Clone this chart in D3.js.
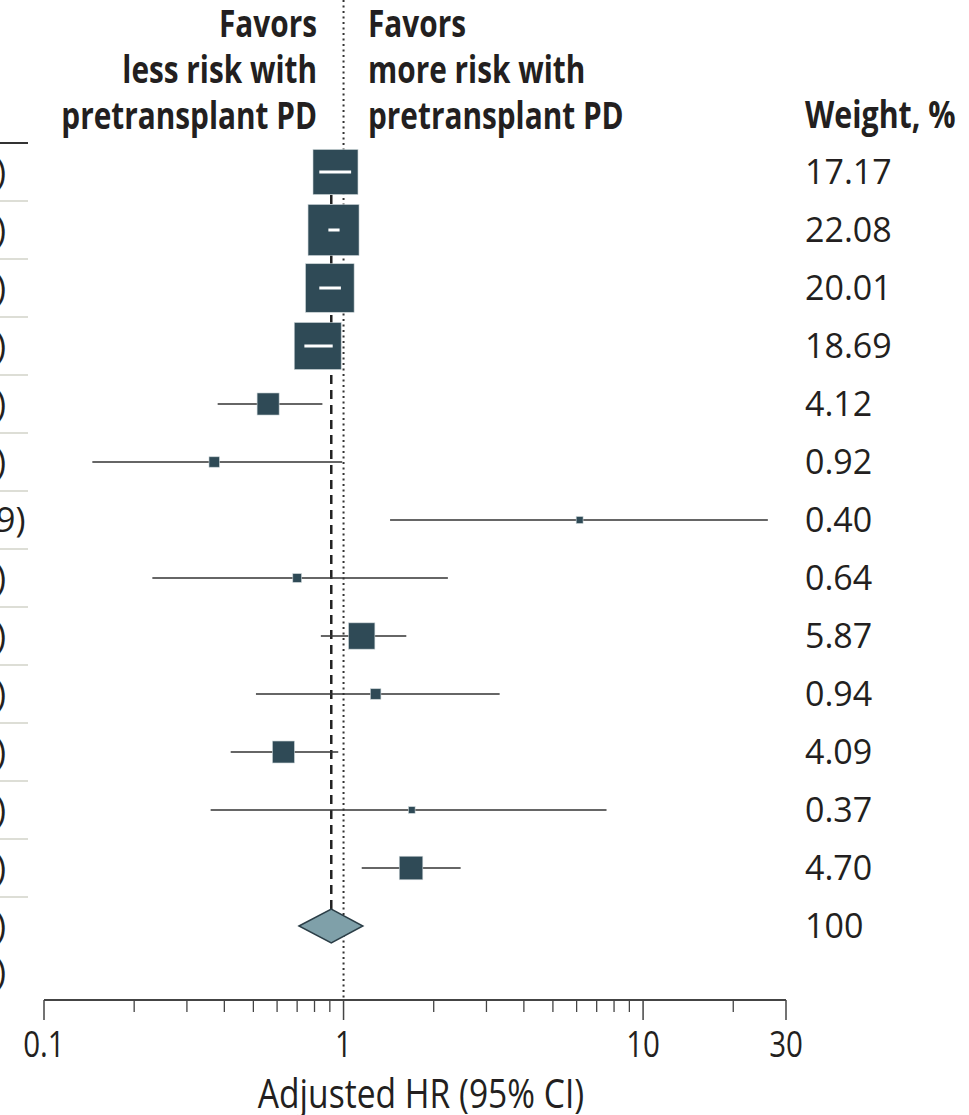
<!DOCTYPE html>
<meta charset="utf-8">
<style>
body { margin: 0; background: #fff; }
svg { display: block; }
.cond { font-family: "Open Sans", sans-serif; fill: #231f20; }
.num { font-family: "Open Sans", sans-serif; font-size: 34px; fill: #231f20; }
</style>
<body>
<script src="https://cdn.jsdelivr.net/npm/d3@7"></script>
<script>

// study rows (labels on the left are cropped off in the picture)
var hr      = [0.94, 0.926, 0.90, 0.82, 0.56, 0.37, 6.14, 0.70, 1.15, 1.28, 0.63, 1.69, 1.68];
var lower   = [0.83, 0.89, 0.83, 0.74, 0.38, 0.145, 1.43, 0.23, 0.84, 0.51, 0.42, 0.36, 1.15];
var upper   = [1.06, 0.97, 0.98, 0.92, 0.85, 0.99, 26.09, 2.23, 1.62, 3.32, 0.96, 7.55, 2.46];
var weights = [17.17, 22.08, 20.01, 18.69, 4.12, 0.92, 0.40, 0.64, 5.87, 0.94, 4.09, 0.37, 4.70];

// pooled estimate
var overallHr = 0.91, overallLower = 0.71, overallUpper = 1.16, overallWeight = 100;
var footLabel = "(0.52-1.59)";

// axis
var tickValues = [0.1, 1, 10, 30];
var minorTicks = [0.2, 0.3, 0.4, 0.5, 0.6, 0.7, 0.8, 0.9, 2, 3, 4, 5, 6, 7, 8, 9, 20];
var axisTitle = "Adjusted HR (95% CI)";
var leftHeader = ["Favors", "less risk with", "pretransplant PD"];
var rightHeader = ["Favors", "more risk with", "pretransplant PD"];
var weightHeader = "Weight, %";

var width = 969, height = 1115;
var squash = 0.82;      // condensed look for the header / axis font
var boxColour = "#2f4a56", diamondColour = "#7fa0a9";

var svg = d3.select("body").append("svg")
    .attr("width", width)
    .attr("height", height);

var x = d3.scaleLog().domain([0.1, 30]).range([44, 786]);
var y = d3.scalePoint().domain(d3.range(hr.length + 1)).range([172, 926]);
var size = d3.scaleSqrt().domain([0, 22.08]).range([0, 51]);

var fmt = d3.format(".2f");
function hrText(h, l, u) { return fmt(h) + " (" + fmt(l) + "-" + fmt(u) + ")"; }

// condensed text helper
function condText(g, tx, ty, str, opts) {
  var t = g.append("g")
      .attr("transform", "translate(" + tx + "," + ty + ") scale(" + (opts.squash || squash) + ",1)")
    .append("text")
      .attr("class", "cond")
      .attr("text-anchor", opts.anchor || "start")
      .style("font-size", opts.size + "px")
      .style("font-weight", opts.bold ? "bold" : "normal")
      .text(str);
  return t;
}

// header
leftHeader.forEach(function(s, i) {
  condText(svg, 317, 37 + i * 46, s, {anchor: "end", size: 37, bold: true, squash: 0.805});
});
rightHeader.forEach(function(s, i) {
  condText(svg, 368, 37 + i * 46, s, {anchor: "start", size: 37, bold: true, squash: 0.805});
});
condText(svg, 805, 128, weightHeader, {anchor: "start", size: 37, bold: true});

// rule under header and row separators at the left edge
svg.append("line")
    .attr("x1", 0).attr("x2", 28)
    .attr("y1", 143).attr("y2", 143)
    .attr("stroke", "#333").attr("stroke-width", 2);

svg.selectAll(".sep")
    .data(d3.range(hr.length))
  .enter().append("line")
    .attr("class", "sep")
    .attr("x1", 0).attr("x2", 28)
    .attr("y1", function(i) { return y(i) + 29; })
    .attr("y2", function(i) { return y(i) + 29; })
    .attr("stroke", "#d2d3c8").attr("stroke-width", 1.5);

// HR column, left aligned, mostly cropped off
var labels = hr.map(function(h, i) { return hrText(h, lower[i], upper[i]); });
labels.push(hrText(overallHr, overallLower, overallUpper));

var hrCol = svg.append("g");
var probe = hrCol.append("text").attr("class", "num").text(labels[0]);
var colStart = 6 - probe.node().getComputedTextLength();
probe.remove();

hrCol.selectAll("text")
    .data(labels)
  .enter().append("text")
    .attr("class", "num")
    .attr("x", colStart)
    .attr("y", function(d, i) { return y(i) + 12; })
    .text(function(d) { return d; });

hrCol.append("text")
    .attr("class", "num")
    .attr("text-anchor", "end")
    .attr("x", 6)
    .attr("y", y(hr.length) + 46 + 12)
    .text(footLabel);

// reference line at 1 (dotted)
svg.append("line")
    .attr("x1", x(1)).attr("x2", x(1))
    .attr("y1", 0).attr("y2", 1000)
    .attr("stroke", "#333").attr("stroke-width", 2)
    .attr("stroke-dasharray", "2,3.5");

// pooled estimate line (dashed)
svg.append("line")
    .attr("x1", x(overallHr)).attr("x2", x(overallHr))
    .attr("y1", 150).attr("y2", y(hr.length))
    .attr("stroke", "#222").attr("stroke-width", 2.5)
    .attr("stroke-dasharray", "9,6");

// study markers
var rows = svg.selectAll(".row")
    .data(hr.map(function(h, i) { return {hr: h, lo: lower[i], hi: upper[i], w: weights[i], i: i}; }))
  .enter().append("g")
    .attr("class", "row")
    .attr("transform", function(d) { return "translate(0," + y(d.i) + ")"; });

rows.append("line")
    .attr("x1", function(d) { return x(d.lo); })
    .attr("x2", function(d) { return x(d.hi); })
    .attr("stroke", "#333").attr("stroke-width", 1.6);

rows.append("rect")
    .attr("x", function(d) { return x(d.hr) - size(d.w) / 2; })
    .attr("y", function(d) { return -size(d.w) / 2; })
    .attr("width", function(d) { return size(d.w); })
    .attr("height", function(d) { return size(d.w); })
    .attr("fill", boxColour)
    .attr("stroke", "#c9d2d5").attr("stroke-width", 0.6);

// CI drawn in white where it sits wholly inside its box
rows.filter(function(d) {
      var s = size(d.w) / 2;
      return x(d.lo) > x(d.hr) - s && x(d.hi) < x(d.hr) + s;
    })
  .append("line")
    .attr("x1", function(d) { return x(d.lo); })
    .attr("x2", function(d) { return x(d.hi); })
    .attr("stroke", "#fff").attr("stroke-width", 3);

// weights
svg.selectAll(".wt")
    .data(weights.concat([overallWeight]))
  .enter().append("text")
    .attr("class", "num")
    .attr("x", 805)
    .attr("y", function(d, i) { return y(i) + 12; })
    .text(function(d) { return d === 100 ? "100" : fmt(d); });

// pooled diamond
var yd = y(hr.length);
svg.append("path")
    .attr("d", "M" + x(overallLower) + "," + yd +
               "L" + x(overallHr) + "," + (yd - 17) +
               "L" + x(overallUpper) + "," + yd +
               "L" + x(overallHr) + "," + (yd + 17) + "Z")
    .attr("fill", diamondColour)
    .attr("stroke", "#2b3e47").attr("stroke-width", 1.5);

// x axis
var axisY = 1000;
var axis = svg.append("g");
axis.append("line")
    .attr("x1", x(0.1)).attr("x2", x(30))
    .attr("y1", axisY).attr("y2", axisY)
    .attr("stroke", "#444").attr("stroke-width", 1.8);

axis.selectAll(".major")
    .data(tickValues)
  .enter().append("line")
    .attr("x1", x).attr("x2", x)
    .attr("y1", axisY).attr("y2", axisY + 20)
    .attr("stroke", "#444").attr("stroke-width", 1.5);

axis.selectAll(".minor")
    .data(minorTicks)
  .enter().append("line")
    .attr("x1", x).attr("x2", x)
    .attr("y1", axisY).attr("y2", axisY + 12)
    .attr("stroke", "#444").attr("stroke-width", 1.3);

tickValues.forEach(function(v) {
  condText(axis, x(v), 1057, String(v), {anchor: "middle", size: 36});
});

condText(axis, 421, 1108, axisTitle, {anchor: "middle", size: 40, squash: 0.84});

</script>
</body>
